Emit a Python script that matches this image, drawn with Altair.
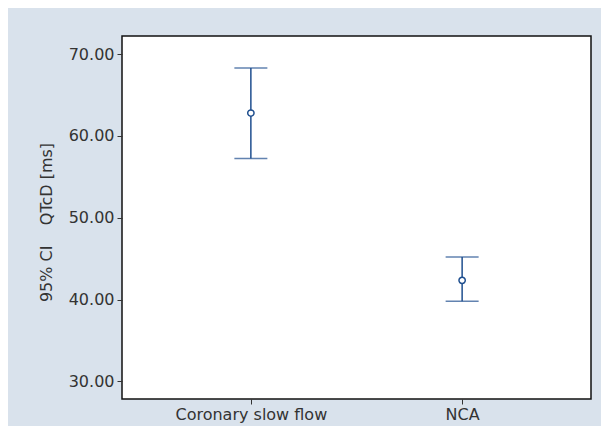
import altair as alt
import pandas as pd

groups = ["Coronary slow flow", "NCA"]
means = [62.8, 42.35]
lower = [57.25, 39.8]
upper = [68.3, 45.2]

y_ticks = [30, 40, 50, 60, 70]
y_domain = [27.85, 72.22]

df = pd.DataFrame({"group": groups, "mean": means, "lower": lower, "upper": upper})

LINE = "#1f4f8f"
FONT = "DejaVu Sans"

x_enc = alt.X(
    "group:N",
    sort=groups,
    scale=alt.Scale(type="point", padding=0.61),
    axis=alt.Axis(
        title=None, labelAngle=0, labelFontSize=16, labelFont=FONT, labelColor="#333333",
        tickColor="#333333", tickSize=5, labelPadding=2, domain=False, grid=False,
    ),
)
y_scale = alt.Scale(domain=y_domain, nice=False, zero=False)
y_axis = alt.Axis(
    title="95% CI\u00a0\u00a0\u00a0\u00a0QTcD [ms]", values=y_ticks, format=".2f",
    labelFontSize=16, labelFont=FONT, labelColor="#333333", tickColor="#333333",
    tickSize=5, labelPadding=3, domain=False, grid=False,
    titleFont=FONT, titleFontSize=16, titleFontWeight="normal", titleColor="#333333",
    titleX=-76, titleY=186, titleAlign="center", titleBaseline="middle", titleAngle=270,
)

base = alt.Chart(df)

rule = base.mark_rule(color=LINE, strokeWidth=1.5).encode(
    x=x_enc,
    y=alt.Y("lower:Q", scale=y_scale, axis=y_axis),
    y2="upper:Q",
)
cap_lo = base.mark_tick(color=LINE, thickness=1.5, size=33, orient="horizontal").encode(
    x=x_enc, y=alt.Y("lower:Q", scale=y_scale)
)
cap_hi = base.mark_tick(color=LINE, thickness=1.5, size=33, orient="horizontal").encode(
    x=x_enc, y=alt.Y("upper:Q", scale=y_scale)
)
pts = base.mark_point(filled=True, fill="white", stroke=LINE, strokeWidth=1.5, size=40, opacity=1).encode(
    x=x_enc, y=alt.Y("mean:Q", scale=y_scale)
)

chart = (
    alt.layer(rule, cap_lo, cap_hi, pts)
    .properties(
        width=469, height=363,
        autosize=alt.AutoSizeParams(type="none"),
        padding={"left": 114, "top": 28, "right": 10, "bottom": 27},
        background="#d9e2ec",
    )
    .configure_view(stroke="#111111", strokeWidth=1.5, fill="white")
)

chart.save("out.html", embed_options={"renderer": "svg", "actions": False})
